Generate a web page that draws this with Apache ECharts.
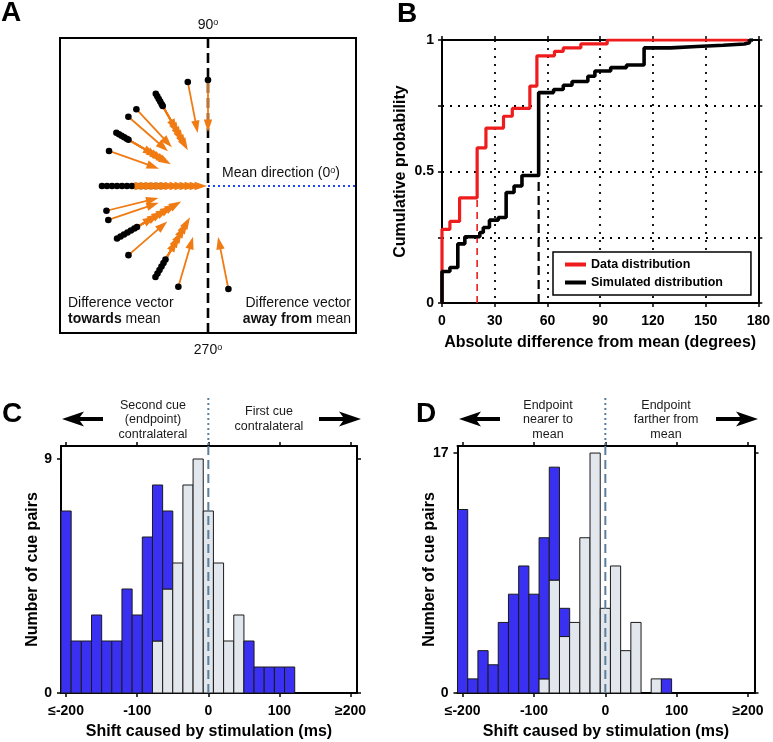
<!DOCTYPE html>
<html><head><meta charset="utf-8">
<script src="https://cdn.jsdelivr.net/npm/echarts@6/dist/echarts.min.js"></script>
<style>html,body{margin:0;padding:0;background:#fff}#c{width:773px;height:742px}</style>
</head><body><div id="c"></div>
<script>
// ---------- Panel A: difference vectors (angle in degrees, start radius, end radius) ----------
const arrowAngle = [101, 90,
  119.5, 119.5, 119.5, 119.5, 119.5, 119.5,
  133, 139,
  149.8, 149.8, 149.8, 149.8, 149.8, 149.8,
  160.5,
  180, 180, 180, 180, 180, 180, 180, 180, 180, 180, 180, 180, 180,
  193.7, 198.8,
  210, 210, 210, 210, 210, 210, 210,
  221,
  240, 240, 240, 240, 240, 240,
  253.6, 281.2];
const arrowStartR = [106, 106,
  106, 103, 100, 97, 94, 92,
  105, 105.5,
  106, 103, 100, 97, 94, 92,
  105,
  106, 101, 96, 91, 86, 81, 76, 71, 66, 61, 56, 51, 46,
  104.5, 105.3,
  105, 101, 97, 93, 89, 85, 82,
  105.4,
  105, 101, 97, 93, 89, 85,
  105, 105];
const arrowEndR = [54, 54,
  63, 59, 54, 50, 45, 41,
  53, 53,
  61, 57, 53, 50, 46, 43,
  52,
  61, 56, 51, 46, 41, 36, 31, 26, 21, 16, 11, 6, 1,
  51, 52,
  61, 56, 51, 46, 41, 36, 31,
  54,
  62, 57, 52, 46, 41, 36,
  53, 52];

// ---------- Panel B: cumulative distributions ----------
const dataDistX = [0, 0, 4.5, 10, 20, 25, 35, 40, 50, 54, 64, 69, 79, 94, 174];
const dataDistY = [0, 0.28, 0.31, 0.40, 0.59, 0.665, 0.71, 0.74, 0.825, 0.94, 0.957, 0.97, 0.985, 1.0, 1.0];
const simDistX = [0, 0, 4.5, 9, 13, 21.5, 23.5, 27, 32, 36.5, 41, 45.5, 55, 63.5, 69, 74, 83, 87, 96, 105, 115, 130, 145, 160, 172, 175, 177];
const simDistY = [0, 0.12, 0.135, 0.225, 0.252, 0.268, 0.287, 0.315, 0.325, 0.42, 0.445, 0.485, 0.80, 0.812, 0.828, 0.842, 0.862, 0.882, 0.895, 0.905, 0.97, 0.975, 0.98, 0.985, 0.99, 1.0, 1.0];
const dataMedian = 20;
const simMedian = 55;

// ---------- Panels C & D: histograms ----------
const binCenters = [-200, -185.7, -171.4, -157.1, -142.9, -128.6, -114.3, -100, -85.7, -71.4, -57.1, -42.9, -28.6, -14.3, 0,
  14.3, 28.6, 42.9, 57.1, 71.4, 85.7, 100, 114.3, 128.6, 142.9, 157.1, 171.4, 185.7, 200];
const binWidth = 14.29;
const cGray = [0, 0, 0, 0, 0, 0, 0, 0, 0, 2, 4, 5, 8, 9, 7, 5, 2, 3, 0, 0, 0, 0, 0, 0, 0, 0, 0, 0, 0];
const cBlue = [7, 2, 2, 3, 2, 2, 4, 3, 6, 6, 3, 0, 0, 0, 0, 0, 0, 0, 2, 1, 1, 1, 1, 0, 0, 0, 0, 0, 0];
const dGray = [0, 0, 0, 0, 0, 0, 0, 0, 1, 8, 4, 5, 11, 17, 6, 9, 3, 5, 0, 1, 0, 0, 0, 0, 0, 0, 0, 0, 0];
const dBlue = [13, 1, 3, 2, 5, 7, 9, 7, 10, 8, 2, 0, 0, 0, 0, 0, 0, 0, 0, 0, 1, 0, 0, 0, 0, 0, 0, 0, 0];
const cdTickValues = [-200, -100, 0, 100, 200];
const cdTickLabels = ['≤-200', '-100', '0', '100', '≥200'];
const cYTicks = [0, 9];
const dYTicks = [0, 17];

// ---------- styling ----------
const FF = '"Liberation Sans", Arial, Helvetica, sans-serif';
const ORANGE = '#f07b12';
const BLUE = '#3a30f2';
const GRAY = '#e2e6ed';
const SLATE = '#5b7f9c';
const RED = '#ee1c1c';

const chart = echarts.init(document.getElementById('c'), null, {renderer: 'canvas'});

const axisLineS = {show: true, onZero: false, lineStyle: {color: '#000', width: 2}};
const tickS = (extra) => Object.assign({show: true, length: 4, lineStyle: {color: '#000', width: 1.5}}, extra || {});
const labelS = (extra) => Object.assign({color: '#000', fontSize: 14, fontWeight: 'bold', fontFamily: FF}, extra || {});
const nameS = {color: '#000', fontSize: 16, fontWeight: 'bold', fontFamily: FF};

function polar(a, r) { const t = a * Math.PI / 180; return [r * Math.cos(t), r * Math.sin(t)]; }
const arrowData = arrowAngle.map((a, i) => [a, arrowStartR[i], arrowEndR[i]]);

function shaftRender(params, api) {
  const a = api.value(0), r0 = api.value(1), r1 = api.value(2);
  const s = api.coord(polar(a, r0)), e = api.coord(polar(a, r1));
  const dx = e[0] - s[0], dy = e[1] - s[1], L = Math.hypot(dx, dy), ux = dx / L, uy = dy / L;
  return {type: 'line', shape: {x1: s[0], y1: s[1], x2: e[0] - ux * 8, y2: e[1] - uy * 8},
    style: {stroke: ORANGE, lineWidth: 1.8}};
}
function dotRender(params, api) {
  const s = api.coord(polar(api.value(0), api.value(1)));
  return {type: 'circle', shape: {cx: s[0], cy: s[1], r: 3.3}, style: {fill: '#000'}};
}
function headRender(params, api) {
  const a = api.value(0), r0 = api.value(1), r1 = api.value(2);
  const s = api.coord(polar(a, r0)), e = api.coord(polar(a, r1));
  const dx = e[0] - s[0], dy = e[1] - s[1], L = Math.hypot(dx, dy), ux = dx / L, uy = dy / L;
  const HL = 12.5, HW = 4.2;
  const bx = e[0] - ux * HL, by = e[1] - uy * HL;
  return {type: 'polygon', shape: {points: [[e[0], e[1]], [bx - uy * HW, by + ux * HW], [bx + uy * HW, by - ux * HW]]},
    style: {fill: ORANGE}};
}

function barRender(params, api) {
  const x = api.value(0), g = api.value(1), b = api.value(2);
  const h = binWidth / 2, kids = [];
  if (g > 0) {
    const p0 = api.coord([x - h, g]), p1 = api.coord([x + h, 0]);
    kids.push({type: 'rect', shape: {x: p0[0], y: p0[1], width: p1[0] - p0[0], height: p1[1] - p0[1]},
      style: {fill: GRAY, stroke: '#1a1a1a', lineWidth: 1}});
  }
  if (b > 0) {
    const p0 = api.coord([x - h, g + b]), p1 = api.coord([x + h, g]);
    kids.push({type: 'rect', shape: {x: p0[0], y: p0[1], width: p1[0] - p0[0], height: p1[1] - p0[1]},
      style: {fill: BLUE, stroke: '#1a1a1a', lineWidth: 1}});
  }
  return {type: 'group', children: kids};
}

const cdFormatter = v => { const i = cdTickValues.indexOf(v); return i >= 0 ? cdTickLabels[i] : ''; };

function histX(grid, top) {
  return {
    gridIndex: grid, type: 'value', min: -207.14, max: 209, position: top ? 'top' : 'bottom',
    axisLine: axisLineS, axisTick: tickS({customValues: cdTickValues}),
    axisLabel: top ? {show: false} : labelS({customValues: cdTickValues, formatter: cdFormatter, margin: 11}),
    splitLine: {show: false},
    name: top ? '' : 'Shift caused by stimulation (ms)', nameLocation: 'middle', nameGap: 31,
    nameTextStyle: nameS, nameMoveOverlap: false
  };
}
function histY(grid, right, max, ticks) {
  return {
    gridIndex: grid, type: 'value', min: 0, max: max, position: right ? 'right' : 'left',
    axisLine: axisLineS, axisTick: tickS({customValues: ticks}),
    axisLabel: right ? {show: false} : labelS({customValues: ticks, margin: 9}),
    splitLine: {show: false},
    name: right ? '' : 'Number of cue pairs', nameLocation: 'middle', nameGap: 20,
    nameTextStyle: nameS, nameMoveOverlap: false
  };
}

const option = {
  animation: false,
  backgroundColor: '#fff',
  grid: [
    {left: 60, top: 38, width: 296, height: 295, show: true, borderColor: '#000', borderWidth: 2, backgroundColor: 'transparent'},
    {left: 442, top: 40, width: 320, height: 263},
    {left: 61, top: 446, width: 296, height: 247},
    {left: 457.5, top: 446, width: 297, height: 247}
  ],
  xAxis: [
    {gridIndex: 0, type: 'value', min: -148, max: 148, show: false},
    {gridIndex: 1, type: 'value', min: 0, max: 180, interval: 30,
      axisLine: axisLineS, axisTick: tickS(), axisLabel: labelS({margin: 11}),
      splitLine: {show: true, lineStyle: {color: '#000', width: 1.8, type: [2, 6]}},
      name: 'Absolute difference from mean (degrees)', nameLocation: 'middle', nameGap: 32,
      nameTextStyle: nameS, nameMoveOverlap: false},
    {gridIndex: 1, type: 'value', min: 0, max: 180, interval: 30, position: 'top',
      axisLine: axisLineS, axisTick: tickS(), axisLabel: {show: false}, splitLine: {show: false}},
    histX(2, false), histX(2, true), histX(3, false), histX(3, true)
  ],
  yAxis: [
    {gridIndex: 0, type: 'value', min: -147, max: 148, show: false},
    {gridIndex: 1, type: 'value', min: 0, max: 1, interval: 0.25,
      axisLine: axisLineS, axisTick: tickS(),
      axisLabel: labelS({margin: 8, formatter: v => (v === 0 ? '0' : v === 0.5 ? '0.5' : v === 1 ? '1' : '')}),
      splitLine: {show: true, lineStyle: {color: '#000', width: 1.8, type: [2, 6]}},
      name: 'Cumulative probability', nameLocation: 'middle', nameGap: 33,
      nameTextStyle: nameS, nameMoveOverlap: false},
    {gridIndex: 1, type: 'value', min: 0, max: 1, interval: 0.25, position: 'right',
      axisLine: axisLineS, axisTick: tickS(), axisLabel: {show: false}, splitLine: {show: false}},
    histY(2, false, 9.5, cYTicks), histY(2, true, 9.5, cYTicks),
    histY(3, false, 17.5, dYTicks), histY(3, true, 17.5, dYTicks)
  ],
  legend: {
    data: ['Data distribution', 'Simulated distribution'],
    orient: 'vertical', left: 553, top: 252, icon: 'rect', itemWidth: 21, itemHeight: 4, itemGap: 5,
    padding: [6, 28, 6, 12], borderColor: '#000', borderWidth: 1.5, borderRadius: 0, backgroundColor: '#fff',
    selectedMode: false,
    textStyle: {color: '#000', fontSize: 12.5, fontWeight: 'bold', fontFamily: FF}
  },
  series: [
    // Panel A
    {type: 'line', xAxisIndex: 0, yAxisIndex: 0, data: [[0, -147], [0, 148]], symbol: 'none', silent: true,
      lineStyle: {color: '#000', width: 2.6, type: [10, 5]}, z: 1},
    {type: 'line', xAxisIndex: 0, yAxisIndex: 0, data: [[0, 0], [148, 0]], symbol: 'none', silent: true,
      lineStyle: {color: '#2244ff', width: 2, type: [2, 3]}, z: 1},
    {type: 'custom', xAxisIndex: 0, yAxisIndex: 0, data: arrowData, renderItem: shaftRender, clip: false, silent: true, z: 2},
    {type: 'custom', xAxisIndex: 0, yAxisIndex: 0, data: arrowData, renderItem: dotRender, clip: false, silent: true, z: 3},
    {type: 'custom', xAxisIndex: 0, yAxisIndex: 0, data: arrowData, renderItem: headRender, clip: false, silent: true, z: 4},
    // Panel B
    {type: 'line', xAxisIndex: 1, yAxisIndex: 1, data: [[dataMedian, 0], [dataMedian, 0.5]], symbol: 'none', silent: true,
      lineStyle: {color: RED, width: 1.6, type: [7, 5]}, z: 2},
    {type: 'line', xAxisIndex: 1, yAxisIndex: 1, data: [[simMedian, 0], [simMedian, 0.5]], symbol: 'none', silent: true,
      lineStyle: {color: '#000', width: 2.2, type: [9, 5]}, z: 2},
    {name: 'Data distribution', type: 'line', xAxisIndex: 1, yAxisIndex: 1, step: 'end', symbol: 'none',
      data: dataDistX.map((x, i) => [x, dataDistY[i]]), itemStyle: {color: RED}, lineStyle: {color: RED, width: 3.2}, z: 3},
    {name: 'Simulated distribution', type: 'line', xAxisIndex: 1, yAxisIndex: 1, step: 'end', symbol: 'none',
      data: simDistX.map((x, i) => [x, simDistY[i]]), itemStyle: {color: '#000'}, lineStyle: {color: '#000', width: 3.6}, z: 4},
    // Panel C
    {type: 'custom', xAxisIndex: 3, yAxisIndex: 3, data: binCenters.map((c, i) => [c, cGray[i], cBlue[i]]),
      renderItem: barRender, encode: {x: 0, y: 1}, silent: true, z: 2},
    {type: 'line', xAxisIndex: 3, yAxisIndex: 3, data: [[0, 0], [0, 9.5]], symbol: 'none', silent: true,
      lineStyle: {color: SLATE, width: 2, type: [9, 5]}, z: 5},
    // Panel D
    {type: 'custom', xAxisIndex: 5, yAxisIndex: 5, data: binCenters.map((c, i) => [c, dGray[i], dBlue[i]]),
      renderItem: barRender, encode: {x: 0, y: 1}, silent: true, z: 2},
    {type: 'line', xAxisIndex: 5, yAxisIndex: 5, data: [[0, 0], [0, 17.5]], symbol: 'none', silent: true,
      lineStyle: {color: SLATE, width: 2, type: [9, 5]}, z: 5}
  ]
};
chart.setOption(option);

// ---------- free texts and decorations ----------
const T = (x, y, text, opts) => ({type: 'text', x: x, y: y, silent: true, z: 100,
  style: Object.assign({text: text, fill: '#000', font: '14px ' + FF, align: 'center', verticalAlign: 'middle'}, opts || {})});
const supRich = {n: {fontSize: 14, fontFamily: FF, fill: '#111'}, s: {fontSize: 9, fontFamily: FF, fill: '#111', verticalAlign: 'top'},
  b: {fontSize: 14, fontFamily: FF, fontWeight: 'bold', fill: '#111'}};
function bigArrow(tip, tail, y, dir) {
  // dir = -1 points left, +1 points right
  const p = [[tip, y], [tip - dir * 22, y - 7.5], [tip - dir * 18, y - 2], [tail, y - 2], [tail, y + 2], [tip - dir * 18, y + 2], [tip - dir * 22, y + 7.5]];
  return {type: 'polygon', silent: true, z: 100, shape: {points: p}, style: {fill: '#000'}};
}
const hdr = {font: '12.5px ' + FF, fill: '#1a1a1a', lineHeight: 14.5};
const x0C = chart.convertToPixel({xAxisIndex: 3}, 0);
const x0D = chart.convertToPixel({xAxisIndex: 5}, 0);
const topC = chart.convertToPixel({yAxisIndex: 3}, 9.5);

chart.setOption({graphic: [
  T(11, 13, 'A', {font: 'bold 28px ' + FF}),
  T(407, 14, 'B', {font: 'bold 28px ' + FF}),
  T(12, 414, 'C', {font: 'bold 28px ' + FF}),
  T(426, 414, 'D', {font: 'bold 28px ' + FF}),
  T(208, 25, '{n|90}{s|o}', {rich: supRich}),
  T(208, 350, '{n|270}{s|o}', {rich: supRich}),
  T(222, 173.5, '{n|Mean direction (0}{s|o}{n|)}', {rich: supRich, align: 'left'}),
  T(68, 311, '{n|Difference vector}\n{b|towards}{n| mean}', {rich: supRich, align: 'left', lineHeight: 16}),
  T(351, 311, '{n|Difference vector}\n{b|away from}{n| mean}', {rich: supRich, align: 'right', lineHeight: 16}),
  T(153, 420, 'Second cue\n(endpoint)\ncontralateral', hdr),
  T(269, 419, 'First cue\ncontralateral', hdr),
  T(548, 420, 'Endpoint\nnearer to\nmean', hdr),
  T(666, 420, 'Endpoint\nfarther from\nmean', hdr),
  bigArrow(62, 103, 419, -1), bigArrow(361, 319, 419, 1),
  bigArrow(459, 500, 419, -1), bigArrow(758, 716, 419, 1),
  {type: 'line', silent: true, z: 50, shape: {x1: x0C, y1: 398, x2: x0C, y2: topC}, style: {stroke: SLATE, lineWidth: 2, lineDash: [2, 3]}},
  {type: 'line', silent: true, z: 50, shape: {x1: x0D, y1: 398, x2: x0D, y2: topC}, style: {stroke: SLATE, lineWidth: 2, lineDash: [2, 3]}}
]});
</script>
</body></html>
